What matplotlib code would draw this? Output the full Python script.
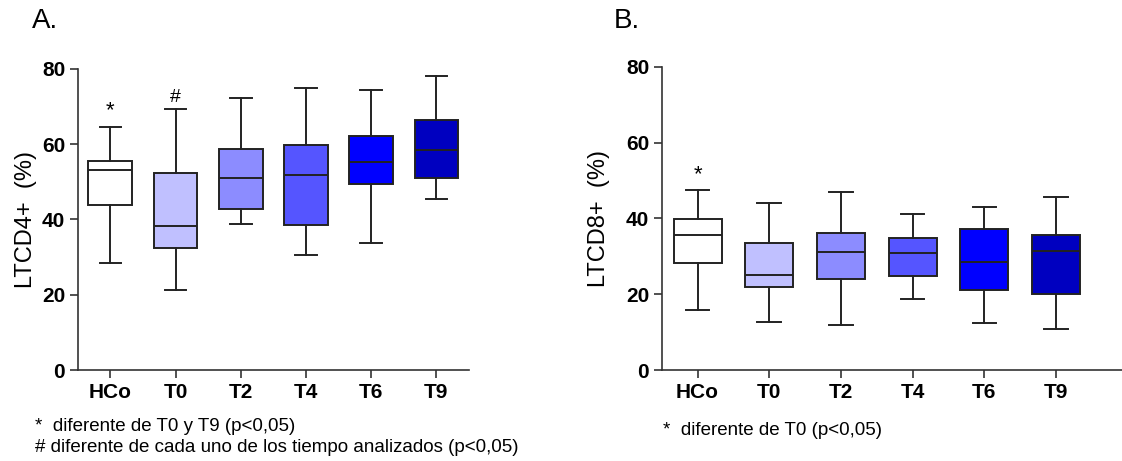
import matplotlib
matplotlib.use('Agg')
import matplotlib.pyplot as plt

plt.rcParams['font.family'] = ['Liberation Sans', 'DejaVu Sans']

# datos (bigotes, cuartiles, mediana)
groups = ['HCo', 'T0', 'T2', 'T4', 'T6', 'T9']
colors = ['#ffffff', '#c0c0ff', '#8c8cff', '#5555ff', '#0000ff', '#0000c0']

cd4_low = [28.5, 21.3, 38.8, 30.6, 33.8, 45.4]
cd4_q1 = [43.8, 32.5, 42.8, 38.5, 49.4, 50.9]
cd4_med = [53.2, 38.2, 51.1, 51.7, 55.3, 58.6]
cd4_q3 = [55.5, 52.4, 58.8, 59.9, 62.1, 66.4]
cd4_high = [64.7, 69.3, 72.3, 74.9, 74.3, 78.1]

cd8_low = [15.7, 12.6, 11.8, 18.8, 12.5, 10.9]
cd8_q1 = [28.1, 21.9, 24.1, 24.8, 21.0, 20.1]
cd8_med = [35.5, 25.1, 31.1, 30.9, 28.6, 31.4]
cd8_q3 = [39.7, 33.5, 36.2, 34.8, 37.3, 35.7]
cd8_high = [47.4, 44.0, 46.9, 41.1, 43.1, 45.5]

W, H = 1122, 461
fig = plt.figure(figsize=(W / 100, H / 100), dpi=100)

def px(l, t, r, b):
    return [l / W, (H - b) / H, (r - l) / W, (b - t) / H]

def panel(ax, lo, q1, med, q3, hi, ylabel, xmax, labx):
    stats = [dict(whislo=a, q1=b, med=c, q3=d, whishi=e, fliers=[])
             for a, b, c, d, e in zip(lo, q1, med, q3, hi)]
    pos = list(range(len(groups)))
    bp = ax.bxp(stats, positions=pos, widths=0.67, patch_artist=True,
                boxprops=dict(ec='#222222', lw=1.4),
                medianprops=dict(color='#222222', lw=1.4),
                whiskerprops=dict(color='#222222', lw=1.4),
                capprops=dict(color='#222222', lw=1.4),
                capwidths=0.33)
    for p, c in zip(bp['boxes'], colors):
        p.set_facecolor(c)
    ax.set_xlim(-0.5, xmax)
    ax.set_ylim(0, 80)
    ax.set_yticks([0, 20, 40, 60, 80])
    ax.set_xticks(pos)
    ax.set_xticklabels(groups)
    for s in ['top', 'right']:
        ax.spines[s].set_visible(False)
    for s in ['left', 'bottom']:
        ax.spines[s].set_linewidth(1.2)
        ax.spines[s].set_color('#333333')
    ax.tick_params(direction='out', length=6, width=1.2, color='#333333',
                   labelsize=15, pad=3)
    for t in ax.get_xticklabels() + ax.get_yticklabels():
        t.set_fontweight('bold')
    ax.set_ylabel(ylabel, fontsize=17)
    ax.yaxis.set_label_coords(labx, 0.5)
    for a in ax.spines.values():
        a.set_clip_on(False)

axA = fig.add_axes(px(77.7, 69, 469, 370))
panel(axA, cd4_low, cd4_q1, cd4_med, cd4_q3, cd4_high, 'LTCD4+  (%)', 5.5, -0.104)
axA.text(0, 66.0, '*', ha='center', va='bottom', fontsize=16)
axA.text(1, 70.2, '#', ha='center', va='bottom', fontsize=14)

axB = fig.add_axes(px(661.7, 66.7, 1122, 370))
panel(axB, cd8_low, cd8_q1, cd8_med, cd8_q3, cd8_high, 'LTCD8+  (%)', 5.92, -0.112)
axB.text(0, 48.7, '*', ha='center', va='bottom', fontsize=16)

fig.text(32 / W, 1 - 21 / H, 'A.', fontsize=20, va='center')
fig.text(614 / W, 1 - 21 / H, 'B.', fontsize=20, va='center')

fig.text(35 / W, 1 - 426 / H, '*  diferente de T0 y T9 (p<0,05)', fontsize=13.5, va='center')
fig.text(35 / W, 1 - 447 / H, '# diferente de cada uno de los tiempo analizados (p<0,05)',
         fontsize=13.5, va='center')
fig.text(663 / W, 1 - 430 / H, '*  diferente de T0 (p<0,05)', fontsize=13.5, va='center')

fig.savefig('out.png', dpi=100, facecolor='white')
